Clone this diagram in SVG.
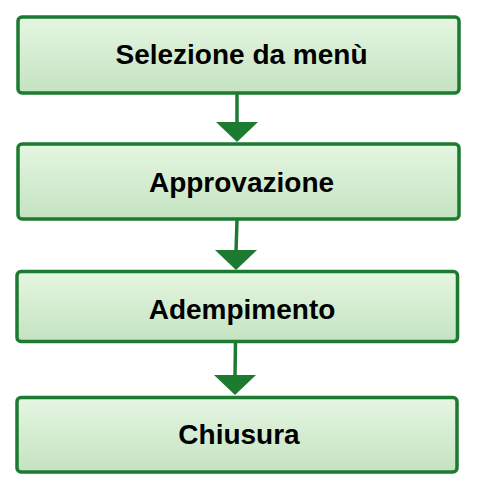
<svg xmlns="http://www.w3.org/2000/svg" width="484" height="490" viewBox="0 0 484 490">
<defs>
<linearGradient id="g" x1="0" y1="0" x2="0" y2="1">
<stop offset="0" stop-color="#e5f6e1"/>
<stop offset="1" stop-color="#c4e3c1"/>
</linearGradient>
</defs>
<style>
.box{fill:url(#g);stroke:#1d7a31;stroke-width:3.5}
.lbl{font-family:"Liberation Sans",Arial,sans-serif;font-weight:bold;font-size:28px;fill:#000;text-anchor:middle}
.ln{stroke:#1d7a31;stroke-width:3.5;fill:none}
.ah{fill:#1d7a31}
</style>
<rect width="484" height="490" fill="#fff"/>
<g id="connectors">
<line class="ln" x1="237" y1="93" x2="237" y2="124"/>
<polygon class="ah" points="216,122 258,122 237,142"/>
<line class="ln" x1="237" y1="220" x2="236" y2="252"/>
<polygon class="ah" points="215,250 257,250 236,270"/>
<line class="ln" x1="235.5" y1="341" x2="235" y2="377"/>
<polygon class="ah" points="214,375 256,375 235,395"/>
</g>
<g id="n1"><rect class="box" x="18" y="17" width="441" height="76" rx="4"/><text class="lbl" x="241.5" y="64">Selezione da menù</text></g>
<g id="n2"><rect class="box" x="18" y="144" width="441" height="75" rx="4"/><text class="lbl" x="241.5" y="192">Approvazione</text></g>
<g id="n3"><rect class="box" x="17" y="271.5" width="440.5" height="70" rx="4"/><text class="lbl" x="242" y="318.5">Adempimento</text></g>
<g id="n4"><rect class="box" x="17" y="397.5" width="440" height="74.5" rx="4"/><text class="lbl" x="239" y="443.5">Chiusura</text></g>
</svg>
